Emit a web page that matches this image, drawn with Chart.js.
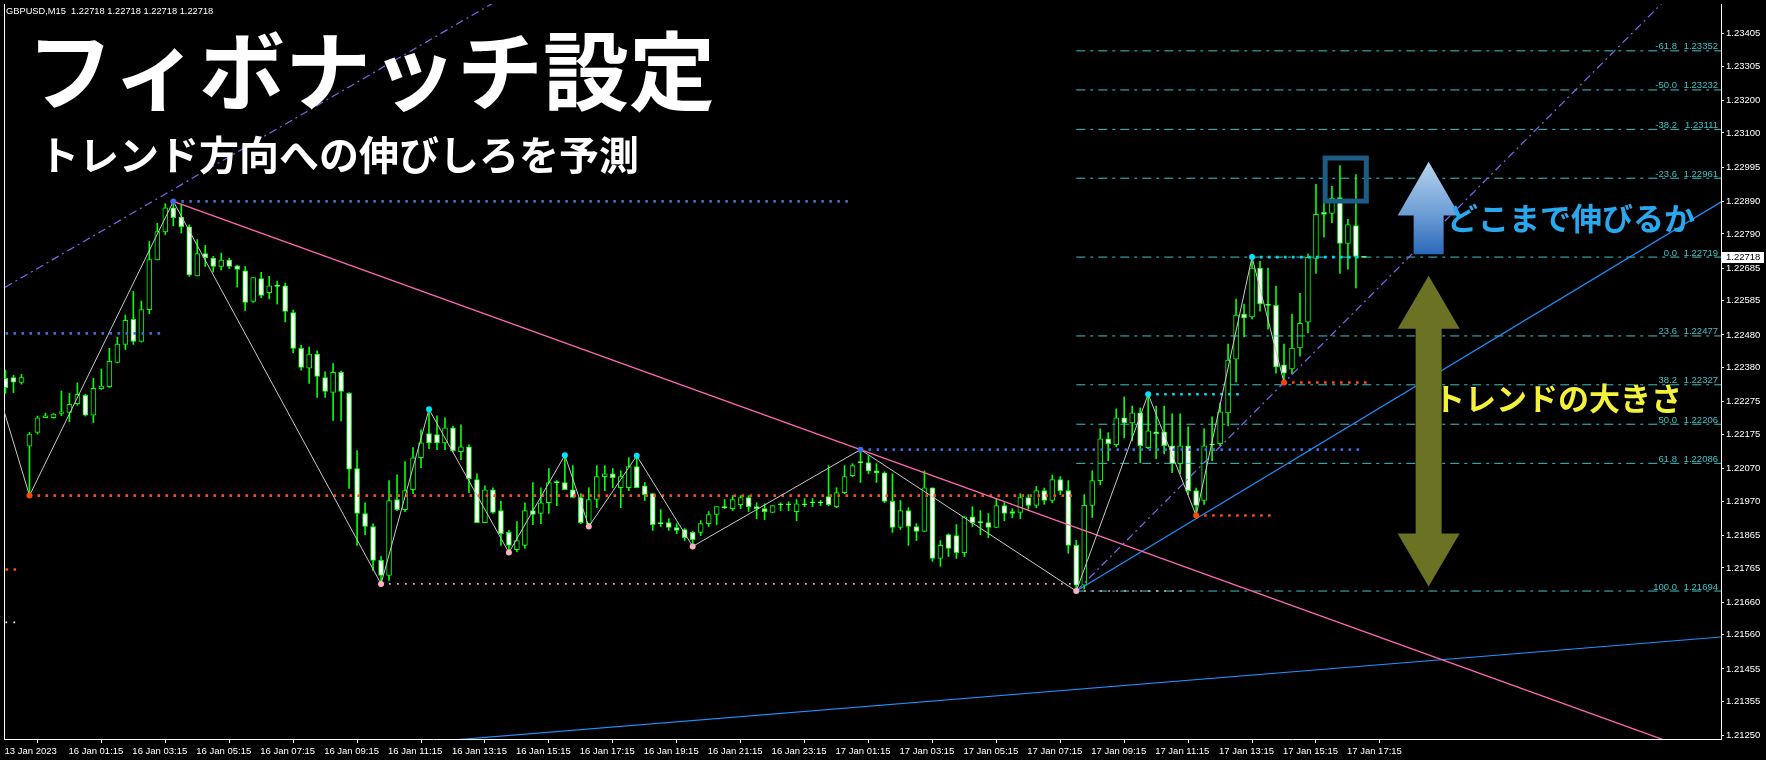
<!DOCTYPE html>
<html><head><meta charset="utf-8">
<script src="https://cdn.jsdelivr.net/npm/chart.js@4.4.1/dist/chart.umd.min.js"></script>
<style>html,body{margin:0;padding:0;background:#000;overflow:hidden}#wrap{width:1766px;height:760px;position:relative}</style>
</head><body><div id="wrap"><canvas id="c" width="1766" height="760"></canvas></div>
<script>
// ---------------- DATA ----------------
const headerText = 'GBPUSD,M15  1.22718 1.22718 1.22718 1.22718';
const titleText = 'フィボナッチ設定';
const subtitleText = 'トレンド方向への伸びしろを予測';
const upText = 'どこまで伸びるか';
const sizeText = 'トレンドの大きさ';
const lastPrice = 1.22718;

const xTickIdx = [0,8,16,24,32,40,48,56,64,72,80,88,96,104,112,120,128,136,144,152,160,168];
const xTickLabels = ['13 Jan 2023','16 Jan 01:15','16 Jan 03:15','16 Jan 05:15','16 Jan 07:15','16 Jan 09:15',
 '16 Jan 11:15','16 Jan 13:15','16 Jan 15:15','16 Jan 17:15','16 Jan 19:15','16 Jan 21:15','16 Jan 23:15',
 '17 Jan 01:15','17 Jan 03:15','17 Jan 05:15','17 Jan 07:15','17 Jan 09:15','17 Jan 11:15','17 Jan 13:15',
 '17 Jan 15:15','17 Jan 17:15'];
const yTickVals = [1.23405,1.23305,1.23200,1.23100,1.22995,1.22890,1.22790,1.22685,1.22585,1.22480,1.22380,
 1.22275,1.22175,1.22070,1.21970,1.21865,1.21765,1.21660,1.21560,1.21455,1.21355,1.21250];

const opens = [1.22347,1.22349,1.22334,1.22139,1.22181,1.22226,1.22226,1.22239,1.22242,1.22269,
1.22295,1.22234,1.22315,1.22321,1.22396,1.22451,1.22528,1.22460,1.22558,1.22710,
1.22796,1.22870,1.22842,1.22812,1.22661,1.22730,1.22716,1.22690,1.22710,1.22692,
1.22677,1.22583,1.22653,1.22610,1.22629,1.22631,1.22549,1.22439,1.22378,1.22421,
1.22349,1.22304,1.22365,1.22301,1.22070,1.21932,1.21892,1.21788,1.21742,1.21975,
1.21944,1.22005,1.22103,1.22177,1.22174,1.22149,1.22195,1.22122,1.22137,1.22036,
1.21904,1.22005,1.21941,1.21874,1.21821,1.21834,1.21941,1.21932,1.21965,1.22027,
1.22027,1.22005,1.21981,1.21901,1.21975,1.22045,1.22054,1.22011,1.22011,1.22076,
1.22017,1.21993,1.21901,1.21904,1.21889,1.21883,1.21874,1.21874,1.21901,1.21929,
1.21950,1.21947,1.21959,1.21981,1.21953,1.21947,1.21935,1.21959,1.21959,1.21938,
1.21959,1.21965,1.21965,1.21984,1.21953,1.21996,1.22048,1.22088,1.22088,1.22063,
1.22057,1.21969,1.21889,1.21941,1.21892,1.21877,1.22011,1.21794,1.21867,1.21864,
1.21812,1.21922,1.21904,1.21904,1.21889,1.21956,1.21938,1.21935,1.21981,1.21957,
1.22002,1.21972,1.22036,1.22002,1.21834,1.21712,1.21957,1.22033,1.22161,1.22143,
1.22226,1.22210,1.22241,1.22134,1.22183,1.22183,1.22140,1.22085,1.22140,1.22002,
1.21972,1.22143,1.22146,1.22241,1.22406,1.22544,1.22535,1.22685,1.22571,1.22571,
1.22388,1.22376,1.22440,1.22519,1.22715,1.22856,1.22853,1.22902,1.22761,1.22816,
1.22718];
const highs = [1.22372,1.22356,1.22359,1.22181,1.22231,1.22240,1.22239,1.22308,1.22301,1.22333,
1.22298,1.22347,1.22375,1.22439,1.22473,1.22541,1.22614,1.22584,1.22767,1.22823,
1.22883,1.22890,1.22880,1.22818,1.22773,1.22755,1.22721,1.22731,1.22716,1.22694,
1.22690,1.22656,1.22672,1.22660,1.22645,1.22639,1.22556,1.22448,1.22443,1.22431,
1.22367,1.22392,1.22369,1.22303,1.22125,1.21965,1.21900,1.21800,1.22033,1.22051,
1.22091,1.22134,1.22189,1.22252,1.22232,1.22226,1.22200,1.22204,1.22143,1.22054,
1.22017,1.22011,1.21969,1.21880,1.21907,1.21965,1.22027,1.22011,1.22070,1.22033,
1.22111,1.22079,1.21993,1.22011,1.22079,1.22079,1.22070,1.22063,1.22103,1.22109,
1.22027,1.21993,1.21944,1.21916,1.21901,1.21886,1.21877,1.21910,1.21938,1.21953,
1.21975,1.21987,1.21987,1.21987,1.21965,1.21962,1.21956,1.21965,1.21968,1.21975,
1.21978,1.21978,1.21972,1.22079,1.22011,1.22079,1.22085,1.22128,1.22109,1.22085,
1.22060,1.22054,1.21972,1.21950,1.21901,1.22063,1.22011,1.21849,1.21870,1.21898,
1.21922,1.21953,1.21941,1.21932,1.21978,1.21965,1.21947,1.21993,1.21990,1.22015,
1.22010,1.22050,1.22045,1.22033,1.21850,1.21990,1.22063,1.22192,1.22180,1.22253,
1.22290,1.22262,1.22256,1.22298,1.22262,1.22262,1.22238,1.22238,1.22198,1.22010,
1.22192,1.22229,1.22271,1.22452,1.22590,1.22575,1.22719,1.22706,1.22685,1.22630,
1.22452,1.22544,1.22608,1.22728,1.22942,1.22893,1.22936,1.23000,1.22835,1.22972,
1.22718];
const lows = [1.22301,1.22303,1.22329,1.21987,1.22176,1.22226,1.22224,1.22232,1.22214,1.22264,
1.22231,1.22211,1.22313,1.22319,1.22394,1.22435,1.22451,1.22458,1.22545,1.22710,
1.22788,1.22815,1.22793,1.22660,1.22661,1.22690,1.22673,1.22679,1.22684,1.22627,
1.22555,1.22580,1.22594,1.22591,1.22575,1.22520,1.22425,1.22372,1.22331,1.22288,
1.22288,1.22218,1.22216,1.22009,1.21834,1.21867,1.21757,1.21716,1.21727,1.21941,
1.21938,1.21993,1.22073,1.22131,1.22128,1.22128,1.22120,1.22097,1.21996,1.21904,
1.21904,1.21932,1.21834,1.21812,1.21815,1.21825,1.21898,1.21901,1.21932,1.21956,
1.22005,1.21981,1.21901,1.21892,1.21950,1.22002,1.22011,1.21950,1.22002,1.22011,
1.21972,1.21880,1.21892,1.21880,1.21870,1.21849,1.21831,1.21864,1.21892,1.21898,
1.21947,1.21941,1.21947,1.21938,1.21916,1.21913,1.21935,1.21941,1.21941,1.21910,
1.21953,1.21953,1.21956,1.21956,1.21950,1.21993,1.22045,1.22027,1.22054,1.22027,
1.21965,1.21874,1.21883,1.21834,1.21849,1.21877,1.21785,1.21770,1.21800,1.21794,
1.21800,1.21892,1.21867,1.21858,1.21889,1.21910,1.21919,1.21916,1.21945,1.21950,
1.21960,1.21965,1.21990,1.21810,1.21694,1.21700,1.21920,1.22020,1.22094,1.22137,
1.22164,1.22155,1.22088,1.22131,1.22100,1.22115,1.22057,1.22054,1.21990,1.21926,
1.21960,1.22094,1.22140,1.22201,1.22336,1.22474,1.22529,1.22553,1.22498,1.22363,
1.22334,1.22360,1.22415,1.22486,1.22669,1.22780,1.22825,1.22669,1.22682,1.22624,
1.22718];
const closes = [1.22318,1.22335,1.22349,1.22176,1.22226,1.22232,1.22237,1.22244,1.22267,1.22298,
1.22234,1.22316,1.22323,1.22399,1.22452,1.22525,1.22460,1.22558,1.22711,1.22797,
1.22870,1.22840,1.22812,1.22664,1.22730,1.22717,1.22690,1.22710,1.22690,1.22681,
1.22580,1.22656,1.22601,1.22631,1.22629,1.22552,1.22439,1.22380,1.22421,1.22353,
1.22307,1.22365,1.22307,1.22068,1.21932,1.21892,1.21788,1.21742,1.21972,1.21944,
1.22002,1.22103,1.22149,1.22149,1.22149,1.22195,1.22125,1.22137,1.22039,1.21904,
1.22005,1.21935,1.21870,1.21834,1.21849,1.21941,1.21929,1.21965,1.22027,1.22027,
1.22005,1.21981,1.21904,1.21975,1.22045,1.22054,1.22042,1.22045,1.22076,1.22011,
1.21990,1.21898,1.21901,1.21889,1.21880,1.21858,1.21852,1.21901,1.21929,1.21953,
1.21950,1.21975,1.21981,1.21953,1.21947,1.21938,1.21956,1.21959,1.21959,1.21962,
1.21959,1.21965,1.21965,1.21959,1.21996,1.22045,1.22079,1.22088,1.22063,1.22057,
1.21969,1.21889,1.21941,1.21892,1.21877,1.22011,1.21794,1.21834,1.21825,1.21812,
1.21922,1.21904,1.21904,1.21889,1.21956,1.21932,1.21932,1.21981,1.21957,1.22002,
1.21972,1.22036,1.22002,1.21834,1.21712,1.21957,1.22033,1.22161,1.22146,1.22226,
1.22210,1.22241,1.22140,1.22186,1.22177,1.22140,1.22085,1.22140,1.22002,1.21957,
1.22140,1.22143,1.22244,1.22403,1.22541,1.22532,1.22685,1.22575,1.22571,1.22382,
1.22363,1.22440,1.22516,1.22718,1.22850,1.22850,1.22899,1.22761,1.22819,1.22721,
1.22718];

// ZigZag swing points (bar index, price)
const zzIdx   = [-1, 3, 21, 47, 53, 63, 70, 73, 79, 86, 107, 134, 143, 149, 156, 160];
const zzPrice = [1.22313,1.21987,1.22890,1.21716,1.22252,1.21812,1.22111,1.21892,1.22109,1.21831,1.22128,1.21694,1.22298,1.21926,1.22719,1.22334];
const zzKind  = ['x','lo','hiB','loP','hi','loP','hi','loP','hi','loP','hiB','loP','hi','lo','hi','lo'];

// dotted horizontal levels: [price, fromIdx, toIdx]
const blueLevels   = [[1.22890,21,106],[1.22485,-1,20],[1.22128,107,170]];
const cyanLevels   = [[1.22298,143,155],[1.22719,156,170]];
const orangeLevels = [[1.21987,3,134],[1.21926,149,159],[1.22334,160,171],[1.21760,-1,2]];
const pinkLevels   = [[1.21716,47,134],[1.21694,134,148]];
const whiteLevels  = [[1.21598,-1,2]];

// trend lines: two anchor points [idx, price]
const pinkTrend   = [[21,1.22890],[107,1.22128]];
const blueTrendA  = [[134,1.21694],[149,1.21916]];
const blueTrendB  = [[54.6,1.21234],[214.7,1.21553]];
const purpleA     = [[0,1.22627],[21,1.22927]];
const purpleB     = [[134,1.21694],[160,1.22334]];

// Fibonacci
const fibFromIdx = 134;
const fibNames  = ['-61.8','-50.0','-38.2','-23.6','0.0','23.6','38.2','50.0','61.8','100.0'];
const fibPrices = [1.23352,1.23232,1.23111,1.22961,1.22719,1.22477,1.22327,1.22206,1.22086,1.21694];

// annotations (data coords)
const boxArea   = {i0:165.15, i1:170.3, pTop:1.23023, pBot:1.22891};
const upArrow   = {i:178.1, pTip:1.23012, pHead:1.22847, pBot:1.22728};
const dblArrow  = {i:178.1, pTop:1.22662, pBot:1.21708};

// ---------------- GEOMETRY / STYLE ----------------
const X_MIN = -0.1875, X_MAX = 214.6875;
const Y_MIN = 1.212399, Y_MAX = 1.234958;
const axisFont = '"Liberation Sans",Arial,sans-serif';
const AXIS_PX = 9.5;
const cjk = '"Noto Sans CJK JP","Noto Sans CJK SC",sans-serif';
const GREEN = '#00ff00';
const FIB = '#3cc4c8';

function seg(p1, p2, color, width, dash, order) {
  return {type:'line', data:[{x:p1[0],y:p1[1]},{x:p2[0],y:p2[1]}], borderColor:color, borderWidth:width,
    borderDash:dash||[], pointRadius:0, fill:false, tension:0, order:order||40, xAxisID:'x', yAxisID:'y'};
}
function ray(a, b, xEnd) {
  const slope = (b[1]-a[1])/(b[0]-a[0]);
  return [a, [xEnd, a[1] + slope*(xEnd-a[0])]];
}
const idx = opens.map((_, i) => i);
const datasets = [];
datasets.push({type:'bar', data: idx.map(i => ({x:i, y:[lows[i], highs[i]]})), backgroundColor:GREEN,
  barThickness:1, grouped:false, order:100, minBarLength:1, xAxisID:'x', yAxisID:'y'});
datasets.push({type:'bar', data: idx.map(i => ({x:i, y:[opens[i], closes[i]]})),
  backgroundColor: idx.map(i => closes[i] > opens[i] ? '#000000' : '#ffffff'),
  borderColor:GREEN, borderWidth:1, borderSkipped:false, barThickness:5, grouped:false, order:99, minBarLength:1,
  xAxisID:'x', yAxisID:'y'});

// fib lines
fibPrices.forEach(p => datasets.push(seg([fibFromIdx,p],[X_MAX+1,p], FIB, 1, [9,5,3,5], 60)));
// levels
blueLevels.forEach(l => datasets.push(seg([l[1],l[0]],[l[2],l[0]], '#4169e1', 2.6, [2.6,5.4], 45)));
cyanLevels.forEach(l => datasets.push(seg([l[1],l[0]],[l[2],l[0]], '#00d8ff', 2.6, [2.6,5.4], 45)));
orangeLevels.forEach(l => datasets.push(seg([l[1],l[0]],[l[2],l[0]], '#ff4a10', 2.6, [2.6,5.4], 45)));
pinkLevels.forEach(l => datasets.push(seg([l[1],l[0]],[l[2],l[0]], '#ffb8c8', 1.6, [1.6,6.4], 45)));
whiteLevels.forEach(l => datasets.push(seg([l[1],l[0]],[l[2],l[0]], '#ffffff', 1.6, [1.6,6.4], 45)));
// trend lines
const ptr = ray(pinkTrend[0], pinkTrend[1], X_MAX+1);
datasets.push(seg(ptr[0], ptr[1], '#ff69b4', 1.3, [], 42));
const bta = ray(blueTrendA[0], blueTrendA[1], X_MAX+1);
datasets.push(seg(bta[0], bta[1], '#1e90ff', 1.2, [], 42));
datasets.push(seg(blueTrendB[0], blueTrendB[1], '#1e90ff', 1.2, [], 42));
const pa = ray(purpleA[1], purpleA[0], -2);
const pa2 = ray(purpleA[0], purpleA[1], 90);
datasets.push(seg(pa[1], pa2[1], '#7b68ee', 1.2, [8,4,2,4], 42));
const pb = ray(purpleB[0], purpleB[1], X_MAX+1);
datasets.push(seg(pb[0], pb[1], '#7b68ee', 1.2, [8,4,2,4], 42));
// zigzag
datasets.push({type:'line', data: zzIdx.map((v,k)=>({x:v, y:zzPrice[k]})), borderColor:'#c8c8c8', borderWidth:1,
  pointRadius:0, fill:false, tension:0, order:30, xAxisID:'x', yAxisID:'y'});
const dotColor = {lo:'#ff4500', hiB:'#4169e1', loP:'#ffb0c0', hi:'#00e5ff', x:'rgba(0,0,0,0)'};
datasets.push({type:'line', showLine:false, data: zzIdx.map((v,k)=>({x:v, y:zzPrice[k]})),
  pointRadius:3, pointBorderWidth:0, pointBackgroundColor: zzKind.map(k=>dotColor[k]), order:10,
  xAxisID:'x', yAxisID:'y'});

function arrowUp(ctx, cx, yTip, yHead, yBot, hw, sw, fill) {
  ctx.beginPath();
  ctx.moveTo(cx, yTip); ctx.lineTo(cx+hw, yHead); ctx.lineTo(cx+sw, yHead); ctx.lineTo(cx+sw, yBot);
  ctx.lineTo(cx-sw, yBot); ctx.lineTo(cx-sw, yHead); ctx.lineTo(cx-hw, yHead); ctx.closePath();
  ctx.fillStyle = fill; ctx.fill();
}
function arrowDouble(ctx, cx, yTop, yBot, hl, hw, sw, fill) {
  ctx.beginPath();
  ctx.moveTo(cx, yTop); ctx.lineTo(cx+hw, yTop+hl); ctx.lineTo(cx+sw, yTop+hl); ctx.lineTo(cx+sw, yBot-hl);
  ctx.lineTo(cx+hw, yBot-hl); ctx.lineTo(cx, yBot); ctx.lineTo(cx-hw, yBot-hl); ctx.lineTo(cx-sw, yBot-hl);
  ctx.lineTo(cx-sw, yTop+hl); ctx.lineTo(cx-hw, yTop+hl); ctx.closePath();
  ctx.fillStyle = fill; ctx.fill();
}

const overlay = {
  id:'overlay',
  afterDatasetsDraw(chart) {
    const {ctx, chartArea:ca} = chart;
    const x = chart.scales.x, y = chart.scales.y;
    ctx.save();
    ctx.beginPath(); ctx.rect(ca.left, ca.top, ca.right-ca.left, ca.bottom-ca.top); ctx.clip();
    // fib labels
    ctx.font = AXIS_PX + 'px ' + axisFont; ctx.fillStyle = FIB; ctx.textAlign = 'right'; ctx.textBaseline = 'alphabetic';
    fibPrices.forEach((p,k) => {
      const py = y.getPixelForValue(p);
      ctx.fillText(fibNames[k], ca.right - 44, py - 1.5);
      ctx.fillText(p.toFixed(5), ca.right - 3, py - 1.5);
    });
    // box
    const bx0 = x.getPixelForValue(boxArea.i0), bx1 = x.getPixelForValue(boxArea.i1);
    const by0 = y.getPixelForValue(boxArea.pTop), by1 = y.getPixelForValue(boxArea.pBot);
    ctx.strokeStyle = '#1c5b84'; ctx.lineWidth = 5; ctx.strokeRect(bx0, by0, bx1-bx0, by1-by0);
    // up arrow
    const ux = x.getPixelForValue(upArrow.i);
    const uTip = y.getPixelForValue(upArrow.pTip), uHead = y.getPixelForValue(upArrow.pHead), uBot = y.getPixelForValue(upArrow.pBot);
    const g = ctx.createLinearGradient(0, uTip, 0, uBot);
    g.addColorStop(0, '#b8d3ee'); g.addColorStop(0.55, '#6f9fd6'); g.addColorStop(1, '#2a68b8');
    arrowUp(ctx, ux, uTip, uHead, uBot, 31, 15, g);
    // double arrow
    const dx = x.getPixelForValue(dblArrow.i);
    arrowDouble(ctx, dx, y.getPixelForValue(dblArrow.pTop), y.getPixelForValue(dblArrow.pBot), 53, 31, 13, '#6b7223');
    // texts
    ctx.textAlign = 'left'; ctx.textBaseline = 'middle';
    ctx.font = 'bold 31px ' + cjk; ctx.fillStyle = '#2aa8ee';
    ctx.fillText(upText, 1447, 218);
    ctx.font = 'bold 31px ' + cjk; ctx.fillStyle = '#f2f23a';
    ctx.fillText(sizeText, 1434, 398);
    ctx.restore();
  },
  afterDraw(chart) {
    const {ctx, chartArea:ca} = chart;
    const y = chart.scales.y;
    ctx.save();
    // price label
    const py = Math.round(y.getPixelForValue(lastPrice));
    ctx.fillStyle = '#ffffff'; ctx.fillRect(ca.right+1, py-5, 42, 11);
    ctx.fillStyle = '#000000'; ctx.font = AXIS_PX + 'px ' + axisFont; ctx.textAlign='left'; ctx.textBaseline='middle';
    ctx.fillText(lastPrice.toFixed(5), ca.right + 5, py + 0.5);
    // header
    ctx.fillStyle = '#ffffff'; ctx.font = '9.3px ' + axisFont; ctx.textBaseline = 'alphabetic';
    ctx.fillText(headerText, 6, 14);
    // title
    ctx.font = 'bold 86px ' + cjk; ctx.textBaseline = 'middle';
    ctx.fillText(titleText, 27, 71);
    ctx.font = 'bold 40px ' + cjk;
    ctx.fillText(subtitleText, 39, 155);
    ctx.restore();
  }
};

function zeroPad(s) { s.paddingTop = 0; s.paddingBottom = 0; s.paddingLeft = 0; s.paddingRight = 0; }

new Chart(document.getElementById('c').getContext('2d'), {
  type:'bar',
  data:{datasets},
  options:{
    responsive:false, animation:false, devicePixelRatio:1,
    layout:{padding:{top:2, left:0, right:0, bottom:0}},
    plugins:{legend:{display:false}, tooltip:{enabled:false}},
    scales:{
      x:{type:'linear', position:'bottom', min:X_MIN, max:X_MAX, offset:false,
        grid:{display:true, drawOnChartArea:false, drawTicks:true, tickLength:4, color:'#ffffff'},
        border:{display:true, color:'#ffffff', width:1},
        ticks:{autoSkip:false, maxRotation:0, minRotation:0, align:'start', color:'#ffffff', padding:3, labelOffset:-1,
          font:{family:axisFont, size:AXIS_PX},
          callback:(v)=>{ const k = xTickIdx.indexOf(Math.round(v)); return k>=0 ? xTickLabels[k] : ''; }},
        afterBuildTicks:(s)=>{ s.ticks = xTickIdx.map(v=>({value:v})); },
        afterFit:(s)=>{ s.height = 21; zeroPad(s); }},
      y:{type:'linear', position:'right', min:Y_MIN, max:Y_MAX,
        grid:{display:true, drawOnChartArea:false, drawTicks:true, tickLength:3, color:'#ffffff'},
        border:{display:true, color:'#ffffff', width:1},
        ticks:{color:'#ffffff', padding:2, font:{family:axisFont, size:AXIS_PX}, callback:(v)=>Number(v).toFixed(5)},
        afterBuildTicks:(s)=>{ s.ticks = yTickVals.map(v=>({value:v})); },
        afterFit:(s)=>{ s.width = 45; zeroPad(s); }},
      yl:{type:'linear', position:'left', min:Y_MIN, max:Y_MAX,
        grid:{display:false}, ticks:{display:false}, border:{display:true, color:'#ffffff', width:1},
        afterFit:(s)=>{ s.width = 2; zeroPad(s); }}
    }
  },
  plugins:[overlay]
});
</script></body></html>
